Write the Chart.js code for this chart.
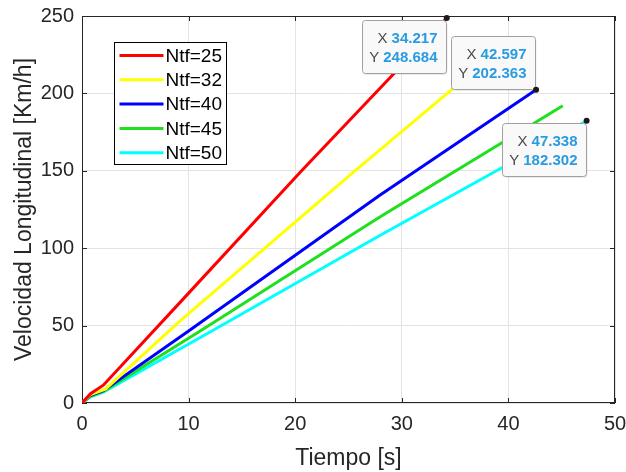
<!DOCTYPE html>
<html>
<head>
<meta charset="utf-8">
<script src="https://cdn.jsdelivr.net/npm/chart.js@4.4.0/dist/chart.umd.min.js"></script>
<style>
    html, body { margin: 0; padding: 0; background: #ffffff; }
    #chartContainer { width: 626px; height: 472px; }
</style>
</head>
<body>
<div id="chartContainer"><canvas id="Graph"></canvas></div>
<script>
// Series (time in s, speed in km/h)
const seriesLabels = ['Ntf=25', 'Ntf=32', 'Ntf=40', 'Ntf=45', 'Ntf=50'];
const seriesColors = ['#ff0000', '#ffff00', '#0000ff', '#1ee01e', '#00ffff'];

const timeNtf25 = [0, 0.8, 2.0, 9.2, 20.6, 34.217];
const speedNtf25 = [0, 6, 11.5, 65, 150, 248.684];
const timeNtf32 = [0, 0.8, 2.2, 9.2, 25.6, 38.6];
const speedNtf32 = [0, 5.5, 9, 53, 150, 225];
const timeNtf40 = [0, 0.8, 2.0, 10.1, 27.9, 42.597];
const speedNtf40 = [0, 5, 8, 47, 134, 202.363];
const timeNtf45 = [0, 0.8, 2.0, 11.2, 27.9, 45.1];
const speedNtf45 = [0, 4.5, 7.5, 47, 120, 192];
const timeNtf50 = [0, 0.8, 2.0, 12.3, 27.9, 47.338];
const speedNtf50 = [0, 4, 7, 47, 108, 182.302];

const xTicks = [0, 10, 20, 30, 40, 50];
const yTicks = [0, 50, 100, 150, 200, 250];

// Data tips shown on the figure
const tipX = [34.217, 42.597, 47.338];
const tipY = [248.684, 202.363, 182.302];
const tipBelow = [true, false, true]; // box drawn under (true) or over (false) the point

const allTimes = [timeNtf25, timeNtf32, timeNtf40, timeNtf45, timeNtf50];
const allSpeeds = [speedNtf25, speedNtf32, speedNtf40, speedNtf45, speedNtf50];

const axisFont = '"Liberation Sans", Arial, Helvetica, sans-serif';
const axisColor = '#262626';

function toPoints(xs, ys) {
    return xs.map((v, i) => ({ x: v, y: ys[i] }));
}

// Box around the axes with inward tick marks (drawn under the lines)
const axesFrame = {
    id: 'axesFrame',
    beforeDatasetsDraw(chart) {
        const { ctx, chartArea: a, scales } = chart;
        ctx.save();
        ctx.strokeStyle = axisColor;
        ctx.lineWidth = 1;
        ctx.strokeRect(Math.round(a.left) + 0.5, Math.round(a.top) + 0.5,
            Math.round(a.right - a.left) - 1, Math.round(a.bottom - a.top) - 1);
        ctx.beginPath();
        xTicks.forEach(t => {
            const px = Math.round(scales.x.getPixelForValue(t)) + 0.5;
            ctx.moveTo(px, a.bottom); ctx.lineTo(px, a.bottom - 5);
            ctx.moveTo(px, a.top); ctx.lineTo(px, a.top + 5);
        });
        yTicks.forEach(t => {
            const py = Math.round(scales.y.getPixelForValue(t)) + 0.5;
            ctx.moveTo(a.left, py); ctx.lineTo(a.left + 5, py);
            ctx.moveTo(a.right, py); ctx.lineTo(a.right - 5, py);
        });
        ctx.stroke();
        ctx.restore();
    }
};

// Legend box inside the axes, top-left
const insideLegend = {
    id: 'insideLegend',
    afterDatasetsDraw(chart) {
        const { ctx, chartArea: a } = chart;
        const left = Math.round(a.left) + 32.5;
        const top = Math.round(a.top) + 26.5;
        const w = 112, h = 122;
        ctx.save();
        ctx.fillStyle = '#ffffff';
        ctx.fillRect(left, top, w, h);
        ctx.strokeStyle = '#000000';
        ctx.lineWidth = 1;
        ctx.strokeRect(left, top, w, h);
        ctx.font = '19px ' + axisFont;
        ctx.textBaseline = 'middle';
        ctx.textAlign = 'left';
        chart.data.datasets.forEach((ds, i) => {
            const cy = top + 13 + i * 24.3;
            ctx.strokeStyle = ds.borderColor;
            ctx.lineWidth = 3;
            ctx.beginPath();
            ctx.moveTo(left + 5, cy);
            ctx.lineTo(left + 49, cy);
            ctx.stroke();
            ctx.fillStyle = '#000000';
            ctx.fillText(ds.label, left + 51, cy + 1);
        });
        ctx.restore();
    }
};

// MATLAB-style data tips
const dataTips = {
    id: 'dataTips',
    afterDatasetsDraw(chart) {
        const { ctx, scales } = chart;
        ctx.save();
        tipX.forEach((tx, i) => {
            const px = scales.x.getPixelForValue(tx);
            const py = scales.y.getPixelForValue(tipY[i]);
            const w = 84, h = 53;
            const bx = Math.round(px - 1 - w) + 0.5;
            const by = tipBelow[i] ? Math.round(py + 2) + 0.5 : Math.round(py - 1 - h) + 0.5;

            ctx.fillStyle = 'rgba(0,0,0,0.08)';
            ctx.beginPath();
            ctx.roundRect(bx + 1, by + 1.5, w, h, 3);
            ctx.fill();
            ctx.fillStyle = '#f9f9f9';
            ctx.strokeStyle = '#a0a0a0';
            ctx.lineWidth = 1;
            ctx.beginPath();
            ctx.roundRect(bx, by, w, h, 3);
            ctx.fill();
            ctx.stroke();

            const rows = [['X', tx.toFixed(3)], ['Y', tipY[i].toFixed(3)]];
            ctx.textBaseline = 'middle';
            ctx.textAlign = 'right';
            rows.forEach((r, k) => {
                const cy = by + 18 + k * 19;
                const rx = bx + w - 9;
                ctx.font = 'bold 15px ' + axisFont;
                ctx.fillStyle = '#2a9be0';
                ctx.fillText(r[1], rx, cy);
                const nw = ctx.measureText(r[1]).width;
                ctx.font = '15px ' + axisFont;
                ctx.fillStyle = '#4a4a4a';
                ctx.fillText(r[0], rx - nw - 4, cy);
            });

            ctx.fillStyle = '#1a1a1a';
            ctx.beginPath();
            ctx.arc(px, py, 3, 0, Math.PI * 2);
            ctx.fill();
        });
        ctx.restore();
    }
};

document.addEventListener('DOMContentLoaded', () => {
    const ctx = document.getElementById('Graph').getContext('2d');
    new Chart(ctx, {
        type: 'line',
        data: {
            datasets: seriesLabels.map((lbl, i) => ({
                label: lbl,
                data: toPoints(allTimes[i], allSpeeds[i]),
                borderColor: seriesColors[i],
                backgroundColor: seriesColors[i],
                borderWidth: 3,
                pointRadius: 0,
                fill: false,
                tension: 0
            }))
        },
        options: {
            responsive: true,
            maintainAspectRatio: false,
            animation: false,
            layout: { padding: { left: 0, top: 16, right: 11, bottom: 0 } },
            plugins: {
                legend: { display: false },
                tooltip: { enabled: false }
            },
            scales: {
                x: {
                    type: 'linear',
                    min: xTicks[0],
                    max: xTicks[xTicks.length - 1],
                    afterBuildTicks: s => { s.ticks = xTicks.map(v => ({ value: v })); },
                    afterFit: s => { s.height = 69; s.paddingLeft = 0; s.paddingRight = 0; },
                    border: { display: false },
                    grid: { color: '#e3e3e3', drawTicks: false, lineWidth: 1 },
                    ticks: { color: axisColor, padding: 9, font: { family: axisFont, size: 20 } },
                    title: {
                        display: true,
                        text: 'Tiempo [s]',
                        color: axisColor,
                        padding: { top: 6, bottom: 0 },
                        font: { family: axisFont, size: 23 }
                    }
                },
                y: {
                    type: 'linear',
                    min: yTicks[0],
                    max: yTicks[yTicks.length - 1],
                    afterBuildTicks: s => { s.ticks = yTicks.map(v => ({ value: v })); },
                    afterFit: s => { s.width = 82; s.paddingTop = 0; s.paddingBottom = 0; },
                    border: { display: false },
                    grid: { color: '#e3e3e3', drawTicks: false, lineWidth: 1 },
                    ticks: { color: axisColor, padding: 8, font: { family: axisFont, size: 20 } },
                    title: {
                        display: true,
                        text: 'Velocidad Longitudinal [Km/h]',
                        color: axisColor,
                        padding: { top: 11, bottom: 0 },
                        font: { family: axisFont, size: 23 }
                    }
                }
            }
        },
        plugins: [axesFrame, insideLegend, dataTips]
    });
});
</script>
</body>
</html>
